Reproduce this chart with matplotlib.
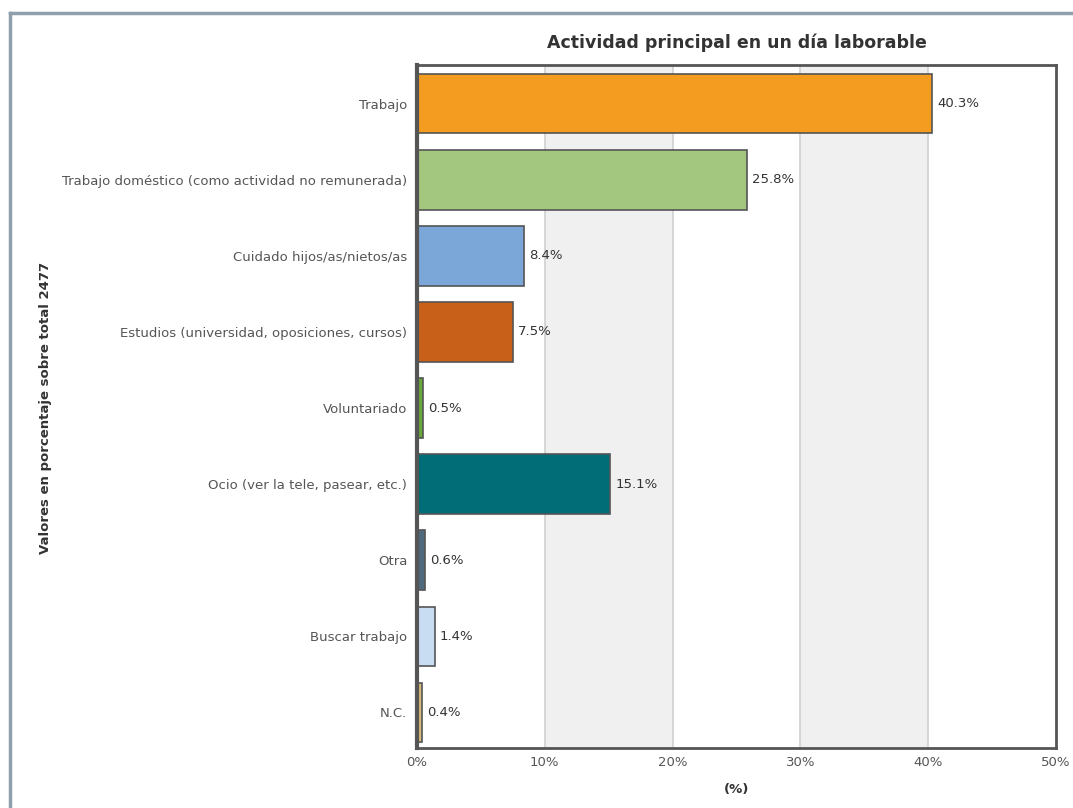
import matplotlib
matplotlib.use("Agg")
import matplotlib.pyplot as plt
from matplotlib.lines import Line2D

categories = [
    "Trabajo",
    "Trabajo doméstico (como actividad no remunerada)",
    "Cuidado hijos/as/nietos/as",
    "Estudios (universidad, oposiciones, cursos)",
    "Voluntariado",
    "Ocio (ver la tele, pasear, etc.)",
    "Otra",
    "Buscar trabajo",
    "N.C.",
]
values = [40.3, 25.8, 8.4, 7.5, 0.5, 15.1, 0.6, 1.4, 0.4]
colors = ["#F39C1F", "#A3C77E", "#7BA6D8", "#C8601A", "#6AA83A",
          "#006D77", "#4F6A7D", "#C9DDF2", "#D9BB7A"]
xticks = [0, 10, 20, 30, 40, 50]
xtick_labels = ["0%", "10%", "20%", "30%", "40%", "50%"]

W, H = 1073, 808
fig = plt.figure(figsize=(W / 100, H / 100), dpi=100)
fig.patch.set_facecolor("white")

# outer frame
fig.add_artist(Line2D([9.5 / W, 1.0], [1 - 12.5 / H, 1 - 12.5 / H],
                      transform=fig.transFigure, color="#8FA0AD", lw=2.5))
fig.add_artist(Line2D([9.5 / W, 9.5 / W], [0, 1 - 12.5 / H],
                      transform=fig.transFigure, color="#8FA0AD", lw=2.5))

left, right, top, bottom = 417, 1056, 65, 748
ax = fig.add_axes([left / W, 1 - bottom / H, (right - left) / W, (bottom - top) / H])

# alternating bands
for a, b in [(10, 20), (30, 40)]:
    ax.axvspan(a, b, color="#F0F0F0", zorder=0, lw=0)
for x in [10, 20, 30, 40]:
    ax.axvline(x, color="#D0D0D0", lw=1.2, zorder=0.5)

ypos = list(range(len(categories)))
ax.barh(ypos, values, height=0.78, color=colors, edgecolor="#555555",
        linewidth=1.2, zorder=2)
for y, v in zip(ypos, values):
    ax.text(v + 0.4, y, f"{v}%", va="center", ha="left", fontsize=9.5,
            color="#333333", zorder=3)

ax.set_xlim(0, 50)
ax.set_ylim(8.47, -0.51)
ax.set_yticks(ypos)
ax.set_yticklabels(categories, fontsize=9.5, color="#555555")
ax.set_xticks(xticks)
ax.set_xticklabels(xtick_labels, fontsize=9.5, color="#555555")
ax.tick_params(axis="both", length=0, pad=6)
ax.tick_params(axis="y", pad=7)

for s in ax.spines.values():
    s.set_color("#555555")
    s.set_linewidth(2)
ax.spines["left"].set_linewidth(3)

ax.set_title("Actividad principal en un día laborable", fontsize=12.5,
             fontweight="semibold", color="#333333", pad=12)
ax.set_xlabel("(%)", fontsize=9.5, fontweight="bold", color="#333333", labelpad=10)
fig.text(46 / W, 1 - 408 / H, "Valores en porcentaje sobre total 2477",
         rotation=90, ha="center", va="center", fontsize=9.5, fontweight="bold",
         color="#333333")

fig.savefig("out.png", dpi=100, facecolor="white")
